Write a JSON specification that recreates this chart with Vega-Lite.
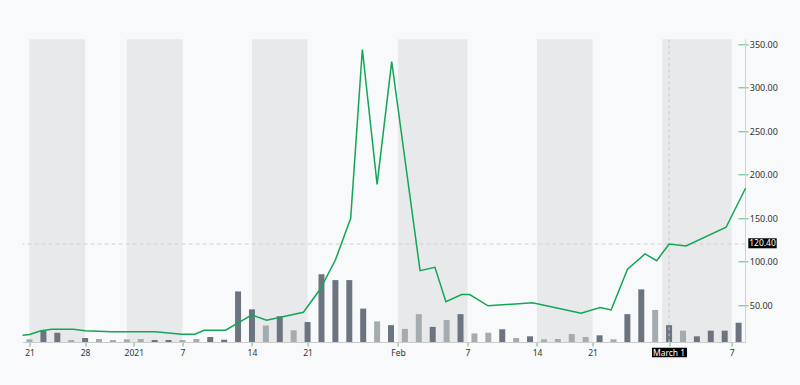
{
  "$schema": "https://vega.github.io/schema/vega-lite/v6.json",
  "width": 723,
  "height": 302.7,
  "autosize": {"type": "none"},
  "padding": {"left": 22.55, "top": 39.3, "right": 54.45, "bottom": 43},
  "background": "#f8f9fa",
  "config": {
    "view": {"stroke": null},
    "font": "Noto Sans",
    "axisX": {"domainColor": "#cccccc", "tickColor": "#5cb887", "tickSize": 4, "labelPadding": 2, "labelFontSize": 8.5, "labelColor": "#333333", "grid": false, "title": null, "labelFlush": false, "labelOverlap": false},
    "axisY": {"grid": false, "title": null}
  },
  "datasets": {
    "bands": [
      {"t0": 0, "t1": 4}, {"t0": 7, "t1": 11}, {"t0": 16, "t1": 20},
      {"t0": 26.5, "t1": 31.5}, {"t0": 36.5, "t1": 40.5}, {"t0": 45.5, "t1": 50.5}
    ],
    "days": [
      {"date":"2020-12-21","t":0,"volume":7.8,"dir":"down"},
      {"date":"2020-12-22","t":1,"volume":32.8,"dir":"up"},
      {"date":"2020-12-23","t":2,"volume":27,"dir":"up"},
      {"date":"2020-12-24","t":3,"volume":5.8,"dir":"down"},
      {"date":"2020-12-28","t":4,"volume":11.6,"dir":"up"},
      {"date":"2020-12-29","t":5,"volume":8.7,"dir":"down"},
      {"date":"2020-12-30","t":6,"volume":5.8,"dir":"down"},
      {"date":"2020-12-31","t":7,"volume":7.8,"dir":"down"},
      {"date":"2021-01-04","t":8,"volume":8.7,"dir":"down"},
      {"date":"2021-01-05","t":9,"volume":5.8,"dir":"up"},
      {"date":"2021-01-06","t":10,"volume":5.8,"dir":"up"},
      {"date":"2021-01-07","t":11,"volume":5.8,"dir":"down"},
      {"date":"2021-01-08","t":12,"volume":8.7,"dir":"down"},
      {"date":"2021-01-11","t":13,"volume":14.5,"dir":"up"},
      {"date":"2021-01-12","t":14,"volume":6.7,"dir":"up"},
      {"date":"2021-01-13","t":15,"volume":147,"dir":"up"},
      {"date":"2021-01-14","t":16,"volume":95,"dir":"up"},
      {"date":"2021-01-15","t":17,"volume":48,"dir":"down"},
      {"date":"2021-01-19","t":18,"volume":75,"dir":"up"},
      {"date":"2021-01-20","t":19,"volume":34,"dir":"down"},
      {"date":"2021-01-21","t":20,"volume":58,"dir":"up"},
      {"date":"2021-01-22","t":21,"volume":197,"dir":"up"},
      {"date":"2021-01-25","t":22,"volume":180,"dir":"up"},
      {"date":"2021-01-26","t":23,"volume":180,"dir":"up"},
      {"date":"2021-01-27","t":24,"volume":97,"dir":"up"},
      {"date":"2021-01-28","t":25,"volume":60,"dir":"down"},
      {"date":"2021-01-29","t":26,"volume":49,"dir":"up"},
      {"date":"2021-02-01","t":27,"volume":38,"dir":"down"},
      {"date":"2021-02-02","t":28,"volume":81,"dir":"down"},
      {"date":"2021-02-03","t":29,"volume":44,"dir":"up"},
      {"date":"2021-02-04","t":30,"volume":64,"dir":"down"},
      {"date":"2021-02-05","t":31,"volume":81,"dir":"up"},
      {"date":"2021-02-08","t":32,"volume":25,"dir":"down"},
      {"date":"2021-02-09","t":33,"volume":27,"dir":"down"},
      {"date":"2021-02-10","t":34,"volume":37,"dir":"up"},
      {"date":"2021-02-11","t":35,"volume":11.6,"dir":"down"},
      {"date":"2021-02-12","t":36,"volume":16.5,"dir":"up"},
      {"date":"2021-02-16","t":37,"volume":7.8,"dir":"down"},
      {"date":"2021-02-17","t":38,"volume":8.7,"dir":"down"},
      {"date":"2021-02-18","t":39,"volume":23,"dir":"down"},
      {"date":"2021-02-19","t":40,"volume":14.5,"dir":"down"},
      {"date":"2021-02-22","t":41,"volume":19.4,"dir":"up"},
      {"date":"2021-02-23","t":42,"volume":7.8,"dir":"down"},
      {"date":"2021-02-24","t":43,"volume":81,"dir":"up"},
      {"date":"2021-02-25","t":44,"volume":153,"dir":"up"},
      {"date":"2021-02-26","t":45,"volume":93,"dir":"down"},
      {"date":"2021-03-01","t":46,"volume":49,"dir":"up"},
      {"date":"2021-03-02","t":47,"volume":33,"dir":"down"},
      {"date":"2021-03-03","t":48,"volume":16.5,"dir":"up"},
      {"date":"2021-03-04","t":49,"volume":33,"dir":"up"},
      {"date":"2021-03-05","t":50,"volume":33,"dir":"up"},
      {"date":"2021-03-08","t":51,"volume":56,"dir":"up"}
    ],
    "price": [
      {"t": -0.5, "close": 15.5}, {"t": 0, "close": 16.4}, {"t": 0.83, "close": 20.8},
      {"t": 1.6, "close": 22.4}, {"t": 3.15, "close": 22.4}, {"t": 4.0, "close": 20.8},
      {"t": 5.9, "close": 19.7}, {"t": 9.03, "close": 19.7}, {"t": 10.95, "close": 16.7},
      {"t": 11.9, "close": 16.7}, {"t": 12.55, "close": 21.3}, {"t": 14.1, "close": 21.3},
      {"t": 16.0, "close": 38.9}, {"t": 17.06, "close": 32.8}, {"t": 19.7, "close": 42},
      {"t": 20.9, "close": 68.4}, {"t": 22.0, "close": 102}, {"t": 23.1, "close": 150},
      {"t": 23.94, "close": 344}, {"t": 25.0, "close": 189}, {"t": 26.05, "close": 330},
      {"t": 28.09, "close": 89.8}, {"t": 29.16, "close": 93.7}, {"t": 29.95, "close": 54.1},
      {"t": 31.08, "close": 62.4}, {"t": 31.66, "close": 62.4}, {"t": 32.98, "close": 49.4},
      {"t": 36.18, "close": 53}, {"t": 39.67, "close": 40.8}, {"t": 41.04, "close": 47.5},
      {"t": 41.83, "close": 44.6}, {"t": 43.01, "close": 91.5}, {"t": 44.27, "close": 109},
      {"t": 45.11, "close": 101.3}, {"t": 46.0, "close": 120.4}, {"t": 47.22, "close": 118.2},
      {"t": 50.1, "close": 139.7}, {"t": 51.5, "close": 184.5}
    ],
    "tags": [
      {"label": "March 1", "x0": 44.77, "x1": 47.29, "y0": 1.2, "y1": -9.8, "xm": 46, "ym": -4.3},
      {"label": "120.40", "x0": 51.7, "x1": 53.74, "y0": 127.0, "y1": 115.5, "xm": 52.72, "ym": 121.2}
    ]
  },
  "layer": [
    {
      "data": {"name": "bands"},
      "mark": {"type": "rect", "color": "#e8e9eb"},
      "encoding": {
        "x": {"field": "t0", "type": "quantitative", "scale": {"domain": [-0.5, 51.5], "nice": false, "zero": false, "padding": 0},
          "axis": {"values": [0, 4, 7.5, 11, 16, 20, 26.5, 31.5, 36.5, 40.5, 46, 50.5],
            "labelExpr": "['21','28','2021','7','14','21','Feb','7','14','21','','7'][indexof([0,4,7.5,11,16,20,26.5,31.5,36.5,40.5,46,50.5], datum.value)]",
            "title": null}},
        "x2": {"field": "t1"}
      }
    },
    {
      "data": {"name": "days"},
      "mark": {"type": "bar", "size": 6},
      "encoding": {
        "x": {"field": "t", "type": "quantitative", "title": null, "scale": {"padding": 0}},
        "y": {"field": "volume", "type": "quantitative", "scale": {"domain": [0, 880], "nice": false}, "axis": null},
        "color": {"field": "dir", "type": "nominal", "scale": {"domain": ["up", "down"], "range": ["#6c757f", "#a4acb0"]}, "legend": null}
      }
    },
    {
      "data": {"values": [{}]},
      "mark": {"type": "rule", "color": "#cfd2d4", "strokeWidth": 1},
      "encoding": {"x": {"datum": 51.5, "type": "quantitative", "title": null}}
    },
    {
      "data": {"values": [{}]},
      "mark": {"type": "rule", "color": "#c8c8c8", "strokeDash": [3, 3], "strokeWidth": 1},
      "encoding": {"x": {"datum": 46, "type": "quantitative", "title": null}}
    },
    {
      "data": {"values": [{}]},
      "mark": {"type": "rule", "color": "#d0d0d0", "strokeDash": [4, 3], "strokeWidth": 1},
      "encoding": {"y": {"datum": 120.4, "type": "quantitative", "scale": {"domain": [7.8, 355.7], "nice": false, "zero": false}, "axis": null}}
    },
    {
      "data": {"name": "price"},
      "mark": {"type": "line", "color": "#12a656", "strokeWidth": 1.5},
      "encoding": {
        "x": {"field": "t", "type": "quantitative", "title": null},
        "y": {"field": "close", "type": "quantitative", "scale": {"domain": [7.8, 355.7], "nice": false, "zero": false},
          "axis": {"orient": "right", "values": [50, 100, 150, 200, 250, 300, 350], "format": ".2f", "offset": -7.6, "domain": false, "tickSize": 10, "tickColor": "#5cb887", "labelPadding": 1.3, "labelFontSize": 9, "labelColor": "#333333", "title": null}}
      }
    },
    {
      "data": {"name": "tags"},
      "mark": {"type": "rect", "color": "#000000"},
      "encoding": {
        "x": {"field": "x0", "type": "quantitative", "title": null},
        "x2": {"field": "x1"},
        "y": {"field": "y0", "type": "quantitative", "scale": {"domain": [7.8, 355.7], "nice": false, "zero": false}, "axis": null},
        "y2": {"field": "y1"}
      }
    },
    {
      "data": {"name": "tags"},
      "mark": {"type": "text", "color": "#ffffff", "fontSize": 8.5, "align": "center", "baseline": "middle"},
      "encoding": {
        "x": {"field": "xm", "type": "quantitative", "title": null},
        "y": {"field": "ym", "type": "quantitative", "scale": {"domain": [7.8, 355.7], "nice": false, "zero": false}, "axis": null},
        "text": {"field": "label"}
      }
    }
  ],
  "resolve": {"scale": {"y": "independent"}}
}
